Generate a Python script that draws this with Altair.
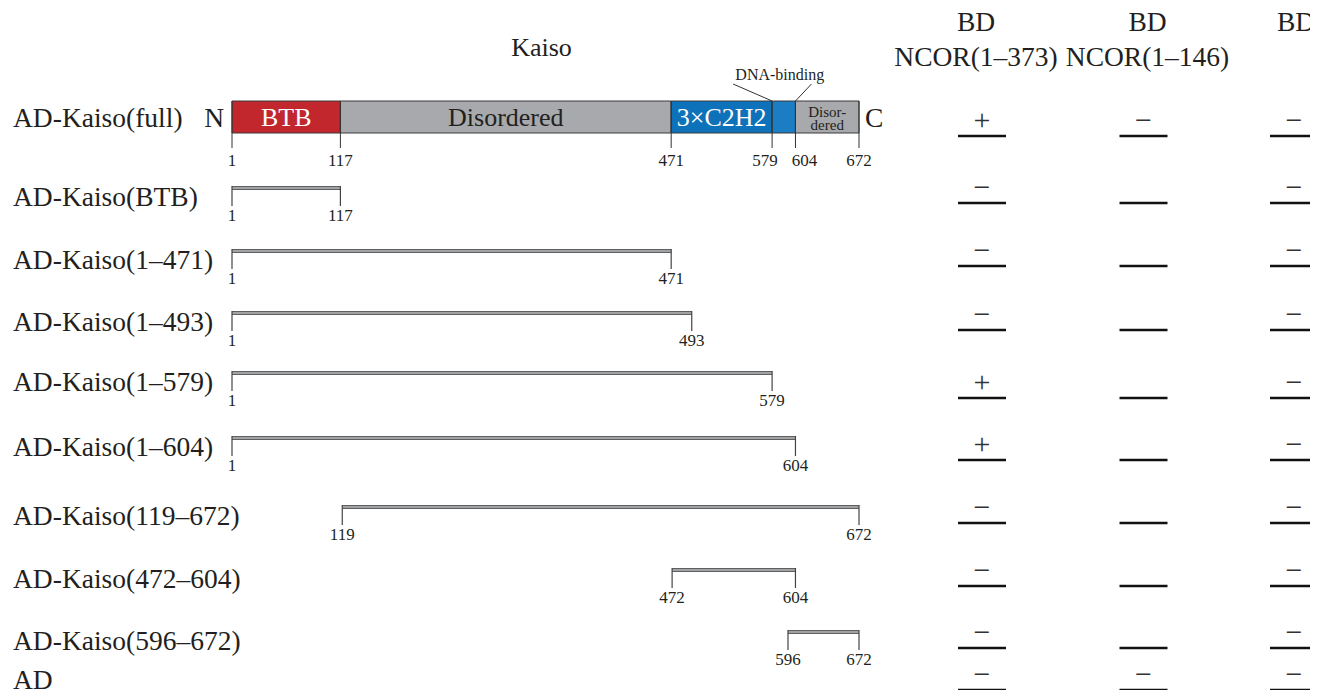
import altair as alt
import pandas as pd

FONT = "Liberation Serif"
TXT = "#231f20"

# ---------------- data ----------------
row_names = ["AD-Kaiso(full)", "AD-Kaiso(BTB)", "AD-Kaiso(1–471)", "AD-Kaiso(1–493)",
             "AD-Kaiso(1–579)", "AD-Kaiso(1–604)", "AD-Kaiso(119–672)",
             "AD-Kaiso(472–604)", "AD-Kaiso(596–672)", "AD"]

frag_rows = [1, 2, 3, 4, 5, 6, 7, 8]
frag_start = [1, 1, 1, 1, 1, 119, 472, 596]
frag_end = [117, 471, 493, 579, 604, 672, 604, 672]

domain_keys = ["BTB", "Disordered", "3×C2H2", "DNA", "Disordered2"]
domain_start = [1, 117, 471, 579, 604]
domain_end = [117, 471, 579, 604, 672]
domain_colors = ["#C1272D", "#A7A9AC", "#0D72B9", "#1B7DC4", "#A7A9AC"]
boundaries = [1, 117, 471, 579, 604, 672]
dna_binding = [579, 604]

column_headers = ["BD\nNCOR(1–373)", "BD\nNCOR(1–146)", "BD"]
res_col1 = ["+", "−", "−", "−", "+", "+", "−", "−", "−", "−"]
res_col2 = ["−", "", "", "", "", "", "", "", "", "−"]
res_col3 = ["−", "−", "−", "−", "−", "−", "−", "−", "−", "−"]

# ---------------- layout (scale ranges, pixels) ----------------
X_RANGE = [224, 851]
ROW_Y = [109, 180, 243, 305, 365, 430, 499, 562, 624, 663]
RES_Y = [128, 195, 258, 322, 390, 452, 515, 578, 640, 682]
COL_X = [974, 1135.5, 1286]

rows_df = pd.DataFrame({"row": row_names, "idx": list(range(len(row_names)))})
frag_df = pd.DataFrame({"idx": frag_rows, "start": frag_start, "end": frag_end})
ends_df = pd.DataFrame({
    "idx": frag_rows + frag_rows,
    "pos": frag_start + frag_end,
})
ends_df["label"] = ends_df["pos"].astype(str)
dom_df = pd.DataFrame({"key": domain_keys, "start": domain_start, "end": domain_end, "idx": 0})
bnd_df = pd.DataFrame({"pos": boundaries, "idx": 0, "label": [str(b) for b in boundaries]})
dna_df = pd.DataFrame({"pos": dna_binding, "idx": 0})
nc_df = pd.DataFrame({"pos": [boundaries[0], boundaries[-1]], "t": ["N", "C"], "idx": 0})

res_rows = []
for c, col in enumerate([res_col1, res_col2, res_col3]):
    for i, s in enumerate(col):
        res_rows.append({"col": c, "idx": i, "sym": s})
res_df = pd.DataFrame(res_rows)
hdr_df = pd.DataFrame({"col": [0, 1, 2], "label": column_headers})

# ---------------- scales ----------------
xs = alt.Scale(domain=[1, 672], range=X_RANGE, nice=False, zero=False)
ys = alt.Scale(domain=list(range(len(row_names))), range=ROW_Y, nice=False, zero=False)
cs = alt.Scale(domain=[0, 1, 2], range=COL_X, nice=False, zero=False)
rs = alt.Scale(domain=list(range(len(row_names))), range=RES_Y, nice=False, zero=False)


def X(f):
    return alt.X(f, type="quantitative", scale=xs, axis=None)


def Y(f="idx"):
    return alt.Y(f, type="quantitative", scale=ys, axis=None)


# ---------------- diagram ----------------
labels0 = alt.Chart(rows_df).transform_filter("datum.idx == 0").mark_text(
    align="left", baseline="middle", fontSize=27.5, dy=2, color=TXT
).encode(x=alt.value(5), y=Y(), text="row:N")

labels = alt.Chart(rows_df).transform_filter("datum.idx > 0").mark_text(
    align="left", baseline="middle", fontSize=27.5, dy=10, color=TXT
).encode(x=alt.value(5), y=Y(), text="row:N")

rects = alt.Chart(dom_df).mark_rect(
    yOffset=-16, y2Offset=16, stroke="#3a3a3a", strokeWidth=1
).encode(
    x=X("start"), x2=alt.X2("end"), y=Y(), y2=alt.Y2("idx"),
    color=alt.Color("key:N", scale=alt.Scale(domain=domain_keys, range=domain_colors), legend=None),
)

bticks = alt.Chart(bnd_df).mark_rule(
    yOffset=-16, y2Offset=31, color="#333333", strokeWidth=1
).encode(x=X("pos"), y=Y(), y2=alt.Y2("idx"))

blabels = alt.Chart(bnd_df).transform_filter(
    f"datum.pos != {dna_binding[0]} && datum.pos != {dna_binding[1]}"
).mark_text(
    baseline="middle", fontSize=17, dy=44, color=TXT
).encode(x=X("pos"), y=Y(), text="label:N")

blabel_a = alt.Chart(bnd_df).transform_filter(f"datum.pos == {dna_binding[0]}").mark_text(
    baseline="middle", fontSize=17, dy=44, dx=-7, color=TXT
).encode(x=X("pos"), y=Y(), text="label:N")

blabel_b = alt.Chart(bnd_df).transform_filter(f"datum.pos == {dna_binding[1]}").mark_text(
    baseline="middle", fontSize=17, dy=44, dx=9, color=TXT
).encode(x=X("pos"), y=Y(), text="label:N")

dom_white = alt.Chart(dom_df).transform_filter(
    "datum.key == 'BTB' || datum.key == '3×C2H2'"
).transform_calculate(mid="(datum.start + datum.end) / 2").mark_text(
    baseline="middle", fontSize=26, dy=1, color="white"
).encode(x=X("mid"), y=Y(), text="key:N")

dom_dark = alt.Chart(dom_df).transform_filter(
    "datum.key == 'Disordered'"
).transform_calculate(mid="(datum.start + datum.end) / 2").mark_text(
    baseline="middle", fontSize=26, dy=1, color=TXT
).encode(x=X("mid"), y=Y(), text="key:N")

dom_small = alt.Chart(dom_df).transform_filter(
    "datum.key == 'Disordered2'"
).transform_calculate(
    mid="(datum.start + datum.end) / 2", t="'Disor-\\ndered'"
).mark_text(
    baseline="middle", fontSize=15, lineHeight=13, dy=-5, color=TXT, lineBreak="\n"
).encode(x=X("mid"), y=Y(), text="t:N")

dna_text = alt.Chart(dna_df).transform_aggregate(
    mid="mean(pos)", idx="min(idx)"
).transform_calculate(t="'DNA-binding'").mark_text(
    baseline="middle", fontSize=16, dy=-42, dx=-4, color=TXT
).encode(x=X("mid"), y=Y(), text="t:N")

lead1 = alt.Chart(dna_df).transform_filter(f"datum.pos == {dna_binding[0]}").mark_rule(
    yOffset=-16, y2Offset=-33, x2Offset=-39, color="#333333", strokeWidth=1
).encode(x=X("pos"), x2=alt.X2("pos"), y=Y(), y2=alt.Y2("idx"))

lead2 = alt.Chart(dna_df).transform_filter(f"datum.pos == {dna_binding[1]}").mark_rule(
    yOffset=-16, y2Offset=-33, x2Offset=16, color="#333333", strokeWidth=1
).encode(x=X("pos"), x2=alt.X2("pos"), y=Y(), y2=alt.Y2("idx"))

n_text = alt.Chart(nc_df).transform_filter("datum.t == 'N'").mark_text(
    align="right", baseline="middle", fontSize=27.5, dx=-8, dy=2, color=TXT
).encode(x=X("pos"), y=Y(), text="t:N")

c_text = alt.Chart(nc_df).transform_filter("datum.t == 'C'").mark_text(
    align="left", baseline="middle", fontSize=27.5, dx=6, dy=2, color=TXT
).encode(x=X("pos"), y=Y(), text="t:N")

kaiso = alt.Chart(nc_df).transform_aggregate(
    mid="mean(pos)", idx="min(idx)"
).transform_calculate(t="'Kaiso'").mark_text(
    baseline="middle", fontSize=26, dy=-69, dx=-4, color=TXT
).encode(x=X("mid"), y=Y(), text="t:N")

frag_outer = alt.Chart(frag_df).mark_rule(color="#5f6062", strokeWidth=4).encode(
    x=X("start"), x2=alt.X2("end"), y=Y()
)
frag_inner = alt.Chart(frag_df).mark_rule(color="#e4e4e4", strokeWidth=1.2).encode(
    x=X("start"), x2=alt.X2("end"), y=Y()
)
fticks = alt.Chart(ends_df).mark_rule(
    yOffset=-2, y2Offset=18, color="#444444", strokeWidth=1.2
).encode(x=X("pos"), y=Y(), y2=alt.Y2("idx"))

flabels = alt.Chart(ends_df).mark_text(
    baseline="middle", fontSize=17, dy=28, color=TXT
).encode(x=X("pos"), y=Y(), text="label:N")

diagram = alt.layer(
    labels0, labels, rects, bticks, blabels, blabel_a, blabel_b,
    dom_white, dom_dark, dom_small,
    dna_text, lead1, lead2, n_text, c_text, kaiso,
    frag_outer, frag_inner, fticks, flabels,
)

# ---------------- results table ----------------
def CX():
    return alt.X("col", type="quantitative", scale=cs, axis=None)


def RY():
    return alt.Y("idx", type="quantitative", scale=rs, axis=None)


def header(c, dx):
    return alt.Chart(hdr_df).transform_filter(f"datum.col == {c}").mark_text(
        baseline="alphabetic", fontSize=27.5, lineHeight=35, lineBreak="\n",
        color=TXT, dx=dx
    ).encode(x=CX(), y=alt.value(23), text="label:N")


underlines = alt.Chart(res_df).mark_rule(
    xOffset=-24, x2Offset=24, color="#111111", strokeWidth=2.5
).encode(x=CX(), x2=alt.X2("col"), y=RY())

symbols = alt.Chart(res_df).transform_filter("datum.sym != ''").mark_text(
    baseline="alphabetic", fontSize=30, dy=-6, color="#333333"
).encode(x=CX(), y=RY(), text="sym:N")

results = alt.layer(header(0, -6), header(1, 4), header(2, 2), underlines, symbols)

chart = alt.layer(diagram, results).resolve_scale(
    x="independent", y="independent", color="independent"
).properties(
    width=1302, height=682, padding=0,
    autosize=alt.AutoSizeParams(type="none"),
).configure_view(stroke=None).configure_text(font=FONT)

chart.save("out.html", embed_options={"renderer": "svg", "actions": False})
